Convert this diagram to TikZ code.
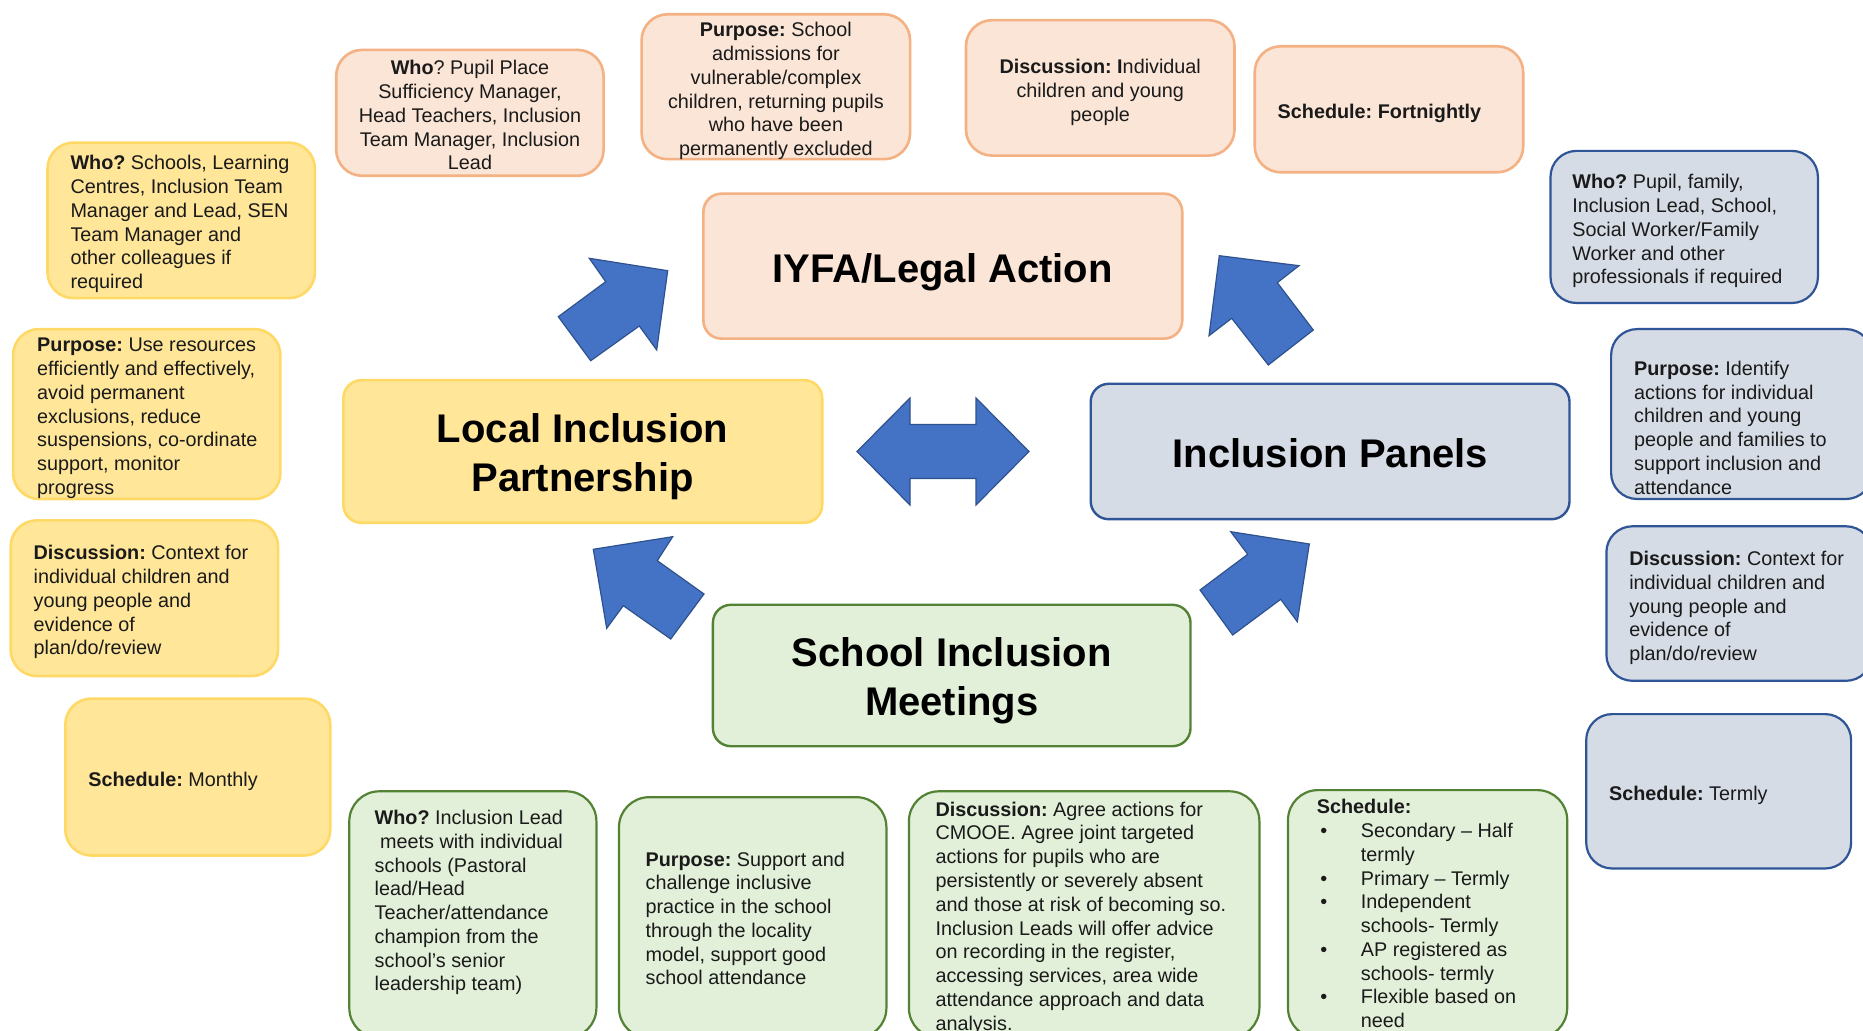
\documentclass[tikz,border=0pt]{standalone}
\usepackage{fontspec}
\setmainfont{Liberation Sans}
\usetikzlibrary{fit}
\frenchspacing
\definecolor{orFill}{HTML}{FBE5D6}
\definecolor{orLine}{HTML}{F4B183}
\definecolor{yeFill}{HTML}{FFE699}
\definecolor{yeLine}{HTML}{FFD966}
\definecolor{blFill}{HTML}{D6DCE5}
\definecolor{blLine}{HTML}{2F5597}
\definecolor{grFill}{HTML}{E2F0D9}
\definecolor{grLine}{HTML}{548235}
\definecolor{arFill}{HTML}{4472C4}
\definecolor{arLine}{HTML}{2F528F}
\definecolor{ink}{HTML}{1A1A1A}
\newcommand\sbul{\hspace*{1.75pt}\makebox[20.25pt][l]{•}}
\newcommand\sind{\hspace*{22pt}}
\begin{document}
\frenchspacing
\begin{tikzpicture}[x=0.5pt, y=-0.5pt,
  sbox/.style={inner sep=0pt, line width=1.3pt, rounded corners=13pt},
  orbox/.style={sbox, fill=orFill, draw=orLine},
  yebox/.style={sbox, fill=yeFill, draw=yeLine},
  blbox/.style={sbox, fill=blFill, draw=blLine, line width=1.1pt},
  grbox/.style={sbox, fill=grFill, draw=grLine, line width=1.1pt, rounded corners=15pt},
  mainbox/.style={inner sep=0pt, line width=1.3pt, rounded corners=9pt},
  ttl/.style={inner sep=0pt, align=center, anchor=base, font=\fontsize{20}{24.36}\selectfont\bfseries, text=black, yshift=-0.5pt},
  tl/.style={yshift={-(#1-1)*24.36pt}},
  txt/.style={inner sep=0pt, align=left, anchor=base west, font=\fontsize{9.9}{11.88}\selectfont, text=ink, yshift=-0.9pt},
  txtc/.style={txt, align=center, anchor=base},
  nl/.style={yshift={-(#1-1)*11.88pt}},
  blockarrow/.style={fill=arFill, draw=arLine, line width=0.6pt, line join=miter}
]
\useasboundingbox (0,0) rectangle (1863,1031);
\fill[white] (0,0) rectangle (1863,1031);
\clip (0,0) rectangle (1863,1031);

% ---------- main boxes ----------
\node[mainbox, fill=orFill, draw=orLine, fit={(703.4,193.7) (1182.2,338.6)}] (iyfa) {};
\node[ttl, tl=1] (iyfaT) at (942.8,281.6) {IYFA/Legal Action};
\node[mainbox, fill=yeFill, draw=yeLine, fit={(343.4,380.2) (822.2,522.8)}] (lip) {};
\node[ttl, tl=2] (lipT) at (582.5,442) {Local Inclusion\\Partnership};
\node[mainbox, fill=blFill, draw=blLine, line width=1.2pt, fit={(1090.7,383.8) (1569.5,519.2)}] (ip) {};
\node[ttl, tl=1] (ipT) at (1330.4,467) {Inclusion Panels};
\node[mainbox, fill=grFill, draw=grLine, line width=1.2pt, fit={(712.9,604.8) (1190.5,746.2)}] (sim) {};
\node[ttl, tl=2] (simT) at (951.7,665.4) {School Inclusion\\Meetings};

% ---------- block arrows ----------
\draw[blockarrow] (667.7,270.7) -- (589.3,258.3) -- (605.7,281.7) -- (558.3,316.7) -- (590.7,360.7) -- (639.3,326) -- (656.7,350) -- cycle;
\draw[blockarrow] (1219.3,255.7) -- (1299,265.7) -- (1277.3,282.7) -- (1313.3,330) -- (1268.3,365) -- (1231.7,318.3) -- (1209,335.7) -- cycle;
\draw[blockarrow] (593.3,549.3) -- (672.7,536.7) -- (657.3,560.7) -- (704,594) -- (670.7,639) -- (623.3,605.7) -- (606.7,628.3) -- cycle;
\draw[blockarrow] (1309.3,544) -- (1230.7,531.7) -- (1247.7,554.3) -- (1200,590) -- (1232.7,635) -- (1280.7,599.3) -- (1297.3,621.7) -- cycle;
\draw[blockarrow] (857,451.5) -- (910,398) -- (910,424.5) -- (976,424.5) -- (976,398) -- (1029,451.5) -- (976,505) -- (976,478.5) -- (910,478.5) -- (910,505) -- cycle;

% ---------- top (orange) ----------
\node[orbox, fit={(336.2,49.9) (603.6,175.8)}] (oWho) {};
\node[txtc, nl=5] (oWhoT) at (470,73) {\textbf{Who}? Pupil Place\\Sufficiency Manager,\\Head Teachers, Inclusion\\Team Manager, Inclusion\\Lead};
\node[orbox, fit={(641.6,14.3) (910.1,159.2)}] (oPurp) {};
\node[txtc, nl=6] (oPurpT) at (775.9,35) {\textbf{Purpose:} School\\admissions for\\vulnerable/complex\\children, returning pupils\\who have been\\permanently excluded};
\node[orbox, fit={(966,20.2) (1234.5,155.6)}] (oDisc) {};
\node[txtc, nl=3] (oDiscT) at (1100.2,71.8) {\textbf{Discussion: I}ndividual\\children and young\\people};
\node[orbox, fit={(1254.7,46.3) (1523.2,172.3)}] (oSched) {};
\node[txt] (oSchedT) at (1277.3,117) {\textbf{Schedule: Fortnightly}};

% ---------- left (yellow) ----------
\node[yebox, fit={(47.5,142.6) (314.9,298.2)}] (yWho) {};
\node[txt, nl=6] (yWhoT) at (70.1,168) {\textbf{Who?} Schools, Learning\\Centres, Inclusion Team\\Manager and Lead, SEN\\Team Manager and\\other colleagues if\\required};
\node[yebox, fit={(13.1,329.1) (280.4,499)}] (yPurp) {};
\node[txt, nl=7] (yPurpT) at (36.8,350) {\textbf{Purpose:} Use resources\\efficiently and effectively,\\avoid permanent\\exclusions, reduce\\suspensions, co-ordinate\\support, monitor\\progress};
\node[yebox, fit={(10.7,520.4) (278,676)}] (yDisc) {};
\node[txt, nl=5] (yDiscT) at (33.3,558) {\textbf{Discussion:} Context for\\individual children and\\young people and\\evidence of\\plan/do/review};
\node[yebox, fit={(65.3,698.6) (330.3,855.5)}] (ySched) {};
\node[txt] (ySchedT) at (87.9,785) {\textbf{Schedule:} Monthly};

% ---------- right (blue) ----------
\node[blbox, fit={(1550.5,150.9) (1817.9,303)}] (bWho) {};
\node[txt, nl=5] (bWhoT) at (1571.9,187) {\textbf{Who?} Pupil, family,\\Inclusion Lead, School,\\Social Worker/Family\\Worker and other\\professionals if required};
\node[blbox, fit={(1611.1,329.1) (1872,499)}] (bPurp) {};
\node[txt, nl=6] (bPurpT) at (1633.7,373.6) {\textbf{Purpose:} Identify\\actions for individual\\children and young\\people and families to\\support inclusion and\\attendance};
\node[blbox, fit={(1606.4,526.3) (1872,680.8)}] (bDisc) {};
\node[txt, nl=5] (bDiscT) at (1628.9,563.7) {\textbf{Discussion:} Context for\\individual children and\\young people and\\evidence of\\plan/do/review};
\node[blbox, fit={(1586.2,714.1) (1851.1,868.5)}] (bSched) {};
\node[txt] (bSchedT) at (1608.7,799) {\textbf{Schedule:} Termly};

% ---------- bottom (green) ----------
\node[grbox, fit={(349.3,791.3) (596.4,1038)}] (gWho) {};
\node[txt, nl=8] (gWhoT) at (374.3,822.7) {\textbf{Who?} Inclusion Lead\\\hspace*{2.7pt}meets with individual\\schools (Pastoral\\lead/Head\\Teacher/attendance\\champion from the\\school’s senior\\leadership team)};
\node[grbox, fit={(619,797.2) (886.4,1038)}] (gPurp) {};
\node[txt, nl=6] (gPurpT) at (645.2,864.3) {\textbf{Purpose:} Support and\\challenge inclusive\\practice in the school\\through the locality\\model, support good\\school attendance};
\node[grbox, fit={(908.9,791.3) (1259.4,1038)}] (gDisc) {};
\node[txt, nl=10] (gDiscT) at (935.1,814.4) {\textbf{Discussion:} Agree actions for\\CMOOE. Agree joint targeted\\actions for pupils who are\\persistently or severely absent\\and those at risk of becoming so.\\Inclusion Leads will offer advice\\on recording in the register,\\accessing services, area wide\\attendance approach and data\\analysis.};
\node[grbox, fit={(1288,790.1) (1567.2,1038)}] (gSched) {};
\node[txt, nl=10] (gSchedT) at (1316.5,812) {\textbf{Schedule:}\\\sbul Secondary – Half\\\sind termly\\\sbul Primary – Termly\\\sbul Independent\\\sind schools- Termly\\\sbul AP registered as\\\sind schools- termly\\\sbul Flexible based on\\\sind need};
\end{tikzpicture}
\end{document}
